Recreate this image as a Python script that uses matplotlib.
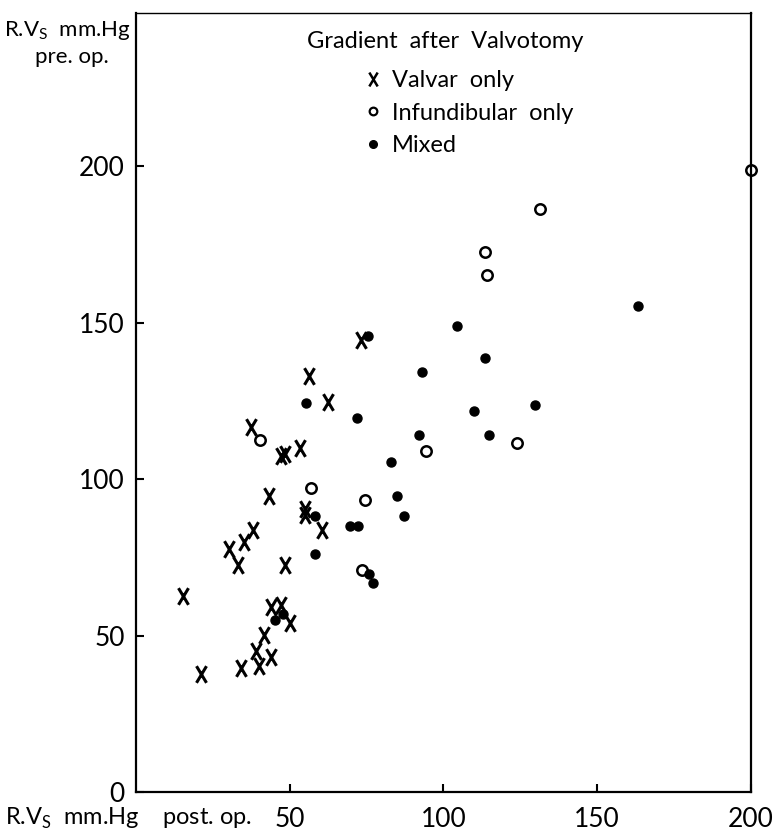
import matplotlib.pyplot as plt
from matplotlib.path import Path
from matplotlib.lines import Line2D

plt.rcParams['font.family'] = ['Lato', 'DejaVu Sans']

# Valvar only (x marks)
valvar_post = [73.2, 56.3, 62.4, 37.4, 47.3, 48.4, 53.3, 43.3, 55.0, 55.0, 60.5, 38.0, 35.1,
               30.2, 33.2, 48.5, 15.3, 43.9, 47.2, 50.1, 41.6, 39.0, 43.9, 40.0, 34.1, 21.1]
valvar_pre = [144.6, 133.1, 124.8, 116.8, 107.3, 108.1, 109.8, 94.7, 90.6, 88.6, 83.8, 83.8, 80.0,
              77.8, 72.6, 72.6, 62.7, 59.2, 59.8, 54.1, 50.2, 45.1, 43.2, 40.3, 39.7, 37.8]

# Infundibular only (open circles)
infund_post = [40.3, 56.9, 74.5, 73.5, 113.5, 114.1, 131.4, 200.0, 123.9, 94.3]
infund_pre = [112.6, 97.3, 93.4, 71.0, 172.5, 165.4, 186.2, 198.7, 111.4, 109.1]

# Mixed (filled dots)
mixed_post = [75.4, 55.3, 71.9, 58.2, 69.6, 72.2, 58.2, 75.8, 77.1, 47.8, 45.2, 163.3, 104.4,
              113.5, 93.0, 109.9, 129.8, 92.0, 114.8, 82.9, 84.9, 87.2]
mixed_pre = [145.6, 124.5, 119.7, 88.3, 85.1, 85.1, 76.2, 69.8, 66.9, 57.0, 55.0, 155.2, 149.1,
             138.6, 134.4, 121.9, 123.8, 114.2, 114.2, 105.6, 94.7, 88.3]

xticks = [50, 100, 150, 200]
yticks = [0, 50, 100, 150, 200]

# tall narrow cross like the printed "x"
xmark = Path([(-0.3, -0.5), (0.3, 0.5), (-0.3, 0.5), (0.3, -0.5)],
             [Path.MOVETO, Path.LINETO, Path.MOVETO, Path.LINETO])

fig = plt.figure(figsize=(7.76, 8.36), dpi=100)
ax = fig.add_axes([136 / 776, 44 / 836, 615 / 776, 779 / 836])

ax.plot(valvar_post, valvar_pre, ls='none', marker=xmark, ms=12, mew=2.2, color='black', clip_on=False)
ax.plot(infund_post, infund_pre, ls='none', marker='o', ms=7.5, mew=1.8, mfc='white', color='black', clip_on=False)
ax.plot(mixed_post, mixed_pre, ls='none', marker='o', ms=6.5, color='black', clip_on=False)

ax.set_xlim(0, 200)
ax.set_ylim(0, 249)
ax.set_xticks(xticks)
ax.set_yticks(yticks)
ax.set_xticklabels([str(t) for t in xticks])
ax.set_yticklabels([str(t) for t in yticks])
ax.tick_params(direction='in', length=6, width=1.5, labelsize=19)
ax.tick_params(axis='x', pad=11)
ax.tick_params(axis='y', pad=8)
for s in ax.spines.values():
    s.set_linewidth(1.6)
ax.spines['top'].set_linewidth(1.0)

ax.text(0.502, 0.963, 'Gradient  after  Valvotomy', transform=ax.transAxes,
        ha='center', va='center', fontsize=17)
handles = [
    Line2D([], [], ls='none', marker=xmark, ms=10, mew=1.8, color='black'),
    Line2D([], [], ls='none', marker='o', ms=5.5, mew=1.6, mfc='white', color='black'),
    Line2D([], [], ls='none', marker='o', ms=5.5, color='black'),
]
ax.legend(handles, ['Valvar  only', 'Infundibular  only', 'Mixed'], loc='upper left',
          bbox_to_anchor=(0.366, 0.927), frameon=False, fontsize=17, borderpad=0,
          borderaxespad=0, handlelength=1.0, handletextpad=0.3, labelspacing=0.5)

fig.text(67 / 776, 1 - 30 / 836, r'R.V$_\mathregular{S}$  mm.Hg', ha='center', va='center', fontsize=16)
fig.text(72 / 776, 1 - 57 / 836, 'pre. op.', ha='center', va='center', fontsize=16)
fig.text(5 / 776, 1 - 818 / 836, r'R.V$_\mathregular{S}$  mm.Hg    post. op.', ha='left', va='center', fontsize=17)

fig.savefig('out.png', dpi=100)
